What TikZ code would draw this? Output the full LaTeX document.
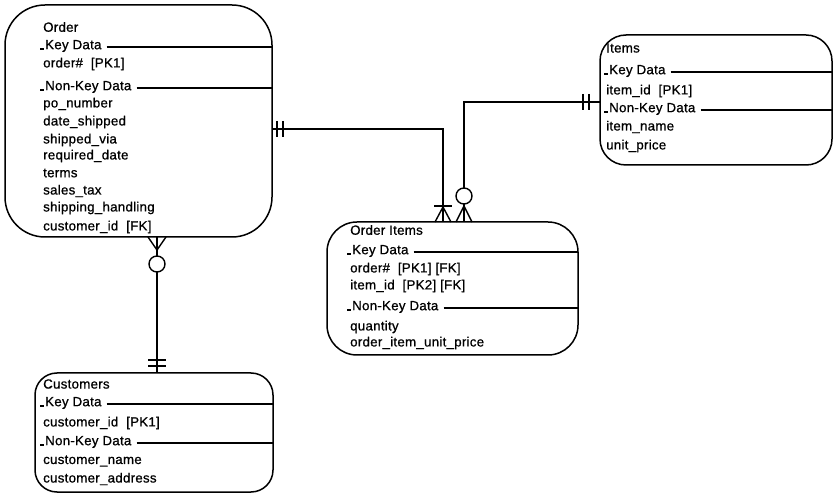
\documentclass[tikz,border=0pt]{standalone}
\usepackage{fontspec}
\setmainfont{Liberation Sans}[LetterSpace=2, FakeBold=0.8]
\begin{document}
\begin{tikzpicture}[x=1pt,y=-1pt,
 entity/.style={draw, line width=1.5pt, inner sep=0pt, outer sep=0pt},
 txt/.style={anchor=west, inner sep=0pt, font=\fontsize{13.3}{15}\selectfont},
 sepline/.style={line width=1.1pt},
 conn/.style={line width=1.4pt},
 ring/.style={draw, line width=1.4pt, fill=white, circle, minimum size=16pt, inner sep=0pt}
]
\useasboundingbox (0,0) rectangle (833,494);

% entities
\node[entity, rounded corners=40pt, minimum width=267pt, minimum height=232pt] (order) at (138.5,121) {};
\node[entity, rounded corners=22pt, minimum width=238pt, minimum height=119pt] (cust) at (154,432.5) {};
\node[entity, rounded corners=26pt, minimum width=232pt, minimum height=130pt] (items) at (716,100) {};
\node[entity, rounded corners=30pt, minimum width=251pt, minimum height=133pt] (oitems) at (452.5,288.5) {};

% Order texts
\foreach \y/\t [count=\i] in {27/Order, 64/order\#\ \ [PK1], 104/po\_number, 122/date\_shipped, 140/shipped\_via, 156/required\_date, 173/terms, 191/sales\_tax, 208/shipping\_handling, 227/customer\_id\ \ [FK]}
  \node[txt] (ot\i) at (43,\y) {\t};
\node[txt] (ok) at (45,46) {Key Data};
\node[txt] (onk) at (45,87) {Non-Key Data};

% Customers texts
\foreach \y/\t [count=\i] in {384/Customers, 423/customer\_id\ \ [PK1], 461/customer\_name, 479/customer\_address}
  \node[txt] (ct\i) at (43,\y) {\t};
\node[txt] (ck) at (45,403) {Key Data};
\node[txt] (cnk) at (45,442) {Non-Key Data};

% Items texts
\foreach \y/\t [count=\i] in {48/Items, 91/item\_id\ \ [PK1], 127/item\_name, 146/unit\_price}
  \node[txt] (it\i) at (606,\y) {\t};
\node[txt] (ik) at (609,71) {Key Data};
\node[txt] (ink) at (609,109) {Non-Key Data};

% Order Items texts
\foreach \y/\t [count=\i] in {230/Order Items, 269/order\#\ \ [PK1] [FK], 286/item\_id\ \ [PK2] [FK], 327/quantity, 343/order\_item\_unit\_price}
  \node[txt] (oit\i) at (350,\y) {\t};
\node[txt] (oik) at (352,251) {Key Data};
\node[txt] (oink) at (352,307) {Non-Key Data};

% separators and leading ticks
\foreach \n/\b in {ok/order, onk/order, ck/cust, cnk/cust, ik/items, ink/items, oik/oitems, oink/oitems}{
  \draw[sepline] ([xshift=5pt,yshift=-1pt]\n.east) -- ([yshift=-1pt]\n.east -| \b.east);
  \draw[sepline] ([xshift=-5pt,yshift=-3pt]\n.west) -- ([xshift=-1pt,yshift=-3pt]\n.west);
}

% connection points
\coordinate (oR) at (272,129);
\coordinate (oiA) at (443,222);
\coordinate (iL) at (600,102);
\coordinate (oiB) at (464,222);
\coordinate (oB) at (157,237);
\coordinate (cT) at (157,373);

% Order -- Order Items
\draw[conn] (oR) -| (oiA);
\draw[conn] (277,121) -- (277,137);
\draw[conn] (283,121) -- (283,137);
\draw[conn] (434,206) -- (452,206);
\draw[conn] (435,222) -- (443,207) -- (451,222);

% Items -- Order Items
\draw[conn] (iL) -| (oiB);
\draw[conn] (583,94) -- (583,110);
\draw[conn] (589,94) -- (589,110);
\draw[conn] (456,222) -- (464,206) -- (472,222);
\node[ring] (r1) at (464,196) {};

% Order -- Customers
\draw[conn] (oB) -- (cT);
\draw[conn] (148,237) -- (157,250) -- (166,237);
\node[ring] (r2) at (157,264) {};
\draw[conn] (148,360) -- (166,360);
\draw[conn] (148,366) -- (166,366);
\end{tikzpicture}
\end{document}
